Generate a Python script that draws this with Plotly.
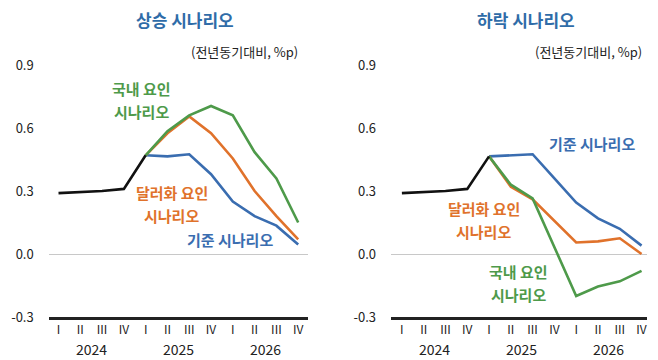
import plotly.graph_objects as go

quarters = ["I", "II", "III", "IV"] * 3
years = ["2024", "2025", "2026"]
xq = list(range(12))

# 상승 시나리오 (left)
up_hist = [0.29, 0.295, 0.30, 0.31, 0.47]
up_base = [0.47, 0.465, 0.475, 0.38, 0.25, 0.18, 0.135, 0.045]
up_fx = [0.47, 0.575, 0.655, 0.575, 0.455, 0.30, 0.18, 0.07]
up_dom = [0.47, 0.585, 0.66, 0.705, 0.66, 0.485, 0.36, 0.15]

# 하락 시나리오 (right)
dn_hist = [0.29, 0.295, 0.30, 0.31, 0.465]
dn_base = [0.465, 0.47, 0.475, 0.36, 0.245, 0.17, 0.12, 0.04]
dn_fx = [0.465, 0.32, 0.26, 0.16, 0.055, 0.06, 0.075, 0.0]
dn_dom = [0.465, 0.33, 0.265, 0.03, -0.20, -0.155, -0.13, -0.08]

titles = ["상승 시나리오", "하락 시나리오"]
unit_text = "(전년동기대비, %p)"
yticks = [-0.3, 0.0, 0.3, 0.6, 0.9]

BLUE = "#3A6DB0"
ORANGE = "#E0722B"
GREEN = "#4E9A4A"
BLACK = "#111111"
TITLE_BLUE = "#2F6CA8"
FONT = "Noto Sans CJK KR"

fig = go.Figure()

def add_panel(xa, ya, hist, base, fx, dom):
    fc = xq[4:]
    for ys, col in [(base, BLUE), (fx, ORANGE), (dom, GREEN)]:
        fig.add_trace(go.Scatter(x=fc, y=ys, mode="lines", line=dict(color=col, width=2.6),
                                 xaxis=xa, yaxis=ya, showlegend=False, hoverinfo="skip"))
    fig.add_trace(go.Scatter(x=xq[:5], y=hist, mode="lines", line=dict(color=BLACK, width=2.6),
                             xaxis=xa, yaxis=ya, showlegend=False, hoverinfo="skip"))

add_panel("x", "y", up_hist, up_base, up_fx, up_dom)
add_panel("x2", "y2", dn_hist, dn_base, dn_fx, dn_dom)

ydom = [1 - 317 / 360, 1 - 65 / 360]
xcommon = dict(tickmode="array", tickvals=xq, ticktext=quarters, showgrid=False, zeroline=False,
               showline=True, linecolor="#222222", linewidth=2.6, ticks="", automargin=False,
               tickfont=dict(family=FONT, size=12, color="#222222"), fixedrange=True)
ycommon = dict(tickmode="array", tickvals=yticks, ticktext=["-0.3", "0.0", "0.3", "0.6", "0.9"],
               range=[-0.3, 0.9], domain=ydom, showgrid=False, zeroline=True, automargin=False,
               zerolinecolor="#C8C8C8", zerolinewidth=1.2, showline=False, ticks="",
               tickfont=dict(family=FONT, size=13, color="#222222"), ticklabelstandoff=14,
               fixedrange=True)

fig.update_layout(
    width=658, height=360, margin=dict(l=0, r=0, t=0, b=0, autoexpand=False),
    paper_bgcolor="white", plot_bgcolor="white",
    font=dict(family=FONT),
    xaxis=dict(xcommon, domain=[48.7 / 658, 308 / 658], range=[-0.45, 11.45]),
    yaxis=dict(ycommon, anchor="x"),
    xaxis2=dict(xcommon, domain=[391 / 658, 647 / 658], range=[-0.5, 11.25]),
    yaxis2=dict(ycommon, anchor="x2"),
)

ann = []
for i, (xr, yr) in enumerate([("x", "y"), ("x2", "y2")]):
    ann.append(dict(text=f"<b>{titles[i]}</b>", xref="paper", yref="paper",
                    x=(185 / 658 if i == 0 else 526 / 658), y=1 - 19 / 360,
                    xanchor="center", yanchor="middle", showarrow=False,
                    font=dict(family=FONT, size=17, color=TITLE_BLUE)))
    ann.append(dict(text=unit_text, xref=xr, yref="paper", x=11.1, y=1 - 52 / 360,
                    xanchor="right", yanchor="middle", showarrow=False,
                    font=dict(family=FONT, size=13, color="#222222")))
    for k, yl in enumerate(years):
        ann.append(dict(text=yl, xref=xr, yref="paper", x=4 * k + 1.5, y=1 - 349 / 360,
                        xanchor="center", yanchor="middle", showarrow=False,
                        font=dict(family=FONT, size=14, color="#222222")))

def label(xr, yr, x, y, lines, color):
    n = len(lines)
    for j, t in enumerate(lines):
        off = (j - (n - 1) / 2) * -23
        ann.append(dict(text=f"<b>{t}</b>", xref=xr, yref=yr, x=x, y=y, yshift=off,
                        xanchor="center", yanchor="middle", showarrow=False,
                        font=dict(family=FONT, size=15, color=color)))

label("x", "y", 3.83, 0.735, ["국내 요인", "시나리오"], GREEN)
label("x", "y", 5.2, 0.24, ["달러화 요인", "시나리오"], ORANGE)
label("x", "y", 7.87, 0.071, ["기준 시나리오"], BLUE)
label("x2", "y2", 8.72, 0.524, ["기준 시나리오"], BLUE)
label("x2", "y2", 3.76, 0.162, ["달러화 요인", "시나리오"], ORANGE)
label("x2", "y2", 5.37, -0.136, ["국내 요인", "시나리오"], GREEN)

fig.update_layout(annotations=ann)
fig.write_html(
    "out.html",
    config={"displayModeBar": False},
    post_script="document.body.style.margin='0';document.body.style.overflow='hidden';",
)
